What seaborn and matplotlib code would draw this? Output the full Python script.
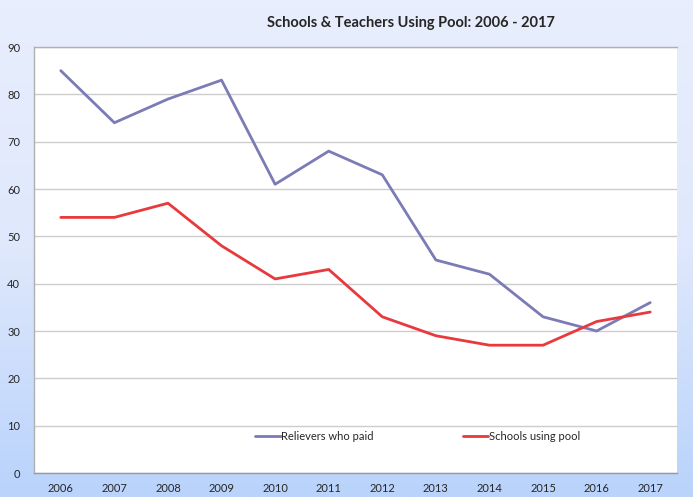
import numpy as np
import pandas as pd
import matplotlib
matplotlib.use("Agg")
import matplotlib.pyplot as plt
import seaborn as sns
from matplotlib.colors import LinearSegmentedColormap

# Data
years = ["2006", "2007", "2008", "2009", "2010", "2011",
         "2012", "2013", "2014", "2015", "2016", "2017"]
relievers = [85, 74, 79, 83, 61, 68, 63, 45, 42, 33, 30, 36]
schools = [54, 54, 57, 48, 41, 43, 33, 29, 27, 27, 32, 34]

df = pd.DataFrame({"Year": years,
                   "Relievers who paid": relievers,
                   "Schools using pool": schools})
long_df = df.melt(id_vars="Year", var_name="Series", value_name="Count")

sns.set_style("white")
plt.rcParams["font.family"] = ["Lato", "DejaVu Sans"]

fig = plt.figure(figsize=(6.93, 4.97), dpi=100)

# gradient background
bg = fig.add_axes([0, 0, 1, 1], zorder=-10)
cmap = LinearSegmentedColormap.from_list("bg", ["#e8eefc", "#dfe8fc", "#b9d3fb"])
grad = np.linspace(0, 1, 256).reshape(-1, 1)
bg.imshow(grad, aspect="auto", cmap=cmap, extent=[0, 1, 0, 1], origin="upper")
bg.set_axis_off()

W, H = 693, 497
left, right, top, bottom = 34, 677, 47, 473
ax = fig.add_axes([left / W, 1 - bottom / H, (right - left) / W, (bottom - top) / H])
ax.set_facecolor("white")

sns.lineplot(data=long_df, x="Year", y="Count", hue="Series", ax=ax,
             palette={"Relievers who paid": "#7b7bb5", "Schools using pool": "#e8393c"},
             linewidth=2, sort=False)

ax.set_xlim(-0.5, 11.5)
ax.set_ylim(0, 90)
ax.set_yticks(range(0, 91, 10))
ax.yaxis.grid(True, color="#cccccc", linewidth=1)
ax.xaxis.grid(False)
ax.set_xlabel("")
ax.set_ylabel("")

# x labels at category centres, tick marks at boundaries
ax.set_xticks(range(12))
ax.set_xticklabels(years, fontsize=8)
ax.set_xticks(np.arange(-0.5, 12, 1), minor=True)
ax.tick_params(axis="x", which="major", length=0, pad=7)
ax.tick_params(axis="x", which="minor", length=4, color="#999999", direction="out")
ax.tick_params(axis="y", length=4, color="#999999", direction="out", labelsize=8, pad=6)

for s in ["left", "bottom", "top"]:
    ax.spines[s].set_color("#b0b0b0")
    ax.spines[s].set_linewidth(1)
ax.spines["right"].set_visible(False)
ax.spines["bottom"].set_color("#999999")

leg = ax.legend(loc="center left", bbox_to_anchor=(0.344, 0.085), ncol=2, frameon=False,
                fontsize=8, handlelength=2.3, handletextpad=0.05, columnspacing=8.0,
                borderaxespad=0, borderpad=0)

fig.text(0.593, 0.953, "Schools & Teachers Using Pool: 2006 - 2017",
         ha="center", va="center", fontsize=10.5, fontweight="bold")

fig.savefig("out.png", dpi=100)
